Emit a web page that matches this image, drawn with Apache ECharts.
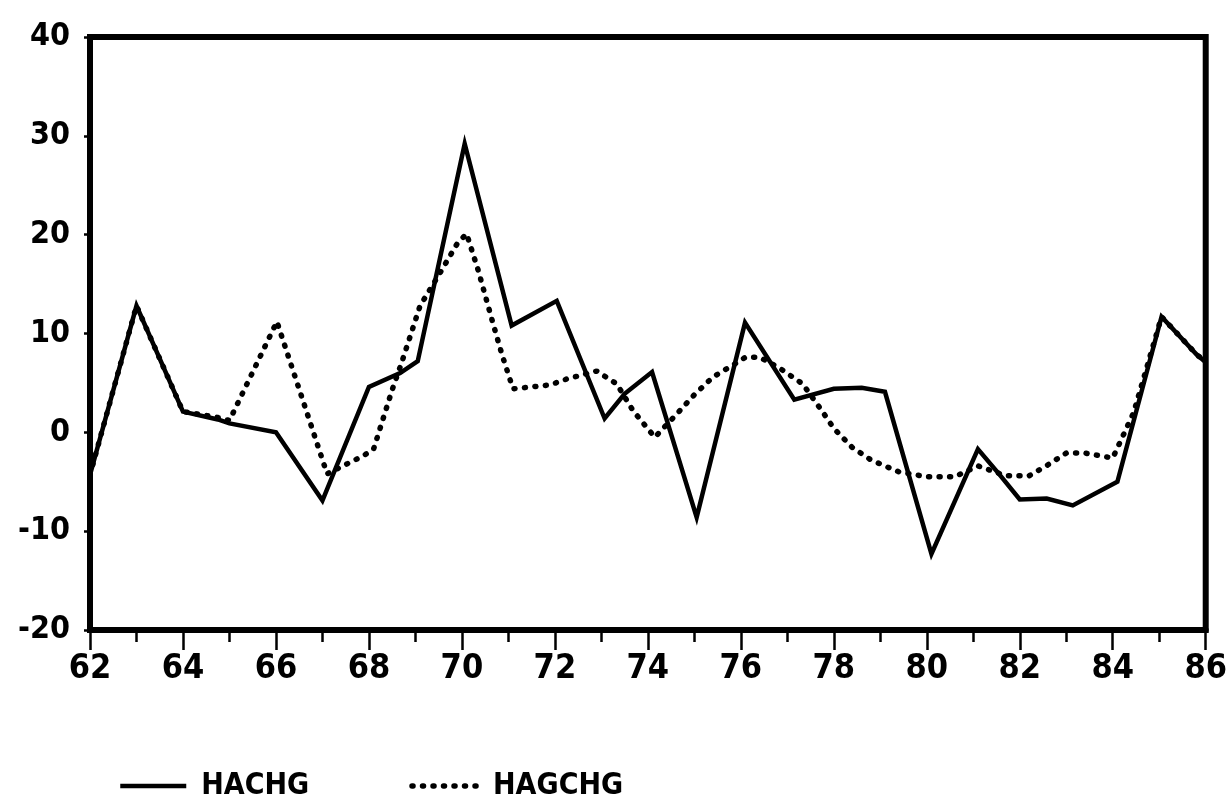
<!DOCTYPE html>
<html>
<head>
<meta charset="utf-8">
<script src="https://cdn.jsdelivr.net/npm/echarts@6/dist/echarts.min.js"></script>
<style>
html,body{margin:0;padding:0;background:#fff;}
#chart{width:1230px;height:811px;}
</style>
</head>
<body>
<div id="chart"></div>
<script>
// HACHG (solid line): years (fractional where the trace has a visible kink) and values
var hachgYears  = [62, 63, 64, 64.75, 65, 66, 67, 68, 68.67, 69.05, 70.06, 71.07, 72.04, 73.07, 73.5, 74.09, 75.05, 76.09, 77.15, 78, 78.6, 79.1, 80.1, 81.1, 81.57, 82, 82.58, 83.14, 84.1, 85.05, 85.8, 86];
var hachgValues = [-4.3, 12.8, 2.1, 1.3, 0.9, 0.0, -6.9, 4.6, 6.0, 7.2, 29.2, 10.8, 13.3, 1.4, 3.9, 6.1, -8.6, 11.1, 3.3, 4.4, 4.5, 4.1, -12.3, -1.7, -4.3, -6.8, -6.7, -7.4, -5.0, 11.7, 7.9, 7.1];

// HAGCHG (dotted line)
var hagchgYears  = [62, 63, 64, 64.75, 65, 66.02, 67.1, 67.44, 67.87, 68.1, 68.5, 68.7, 69.1, 69.5, 69.9, 70.1, 70.35, 70.67, 70.86, 71.1, 71.9, 72.26, 72.9, 73.33, 73.68, 74.15, 74.65, 75.0, 75.4, 75.83, 76.1, 76.4, 76.8, 77.33, 77.74, 78.0, 78.39, 78.8, 79.4, 80.0, 80.6, 81.1, 81.7, 82.2, 82.6, 83.0, 83.4, 84.0, 84.45, 85.05, 85.8, 86];
var hagchgValues = [-4.3, 12.8, 2.1, 1.5, 1.2, 11.2, -4.2, -3.4, -2.4, -1.7, 4.3, 7.0, 12.8, 15.9, 19.1, 20.1, 16.4, 11.0, 7.9, 4.4, 4.8, 5.4, 6.2, 4.9, 2.2, -0.5, 2.0, 3.8, 5.6, 6.8, 7.6, 7.6, 6.6, 4.9, 2.2, 0.4, -1.5, -2.8, -4.0, -4.5, -4.5, -3.4, -4.4, -4.4, -3.3, -2.1, -2.1, -2.6, 2.0, 11.7, 7.9, 7.1];

var seriesNames = ['HACHG', 'HAGCHG'];

function zip(xs, ys) { return xs.map(function (x, i) { return [x, ys[i]]; }); }

var FONT = "'Liberation Sans Narrow', 'DejaVu Sans Condensed', 'Liberation Sans', sans-serif";
var solidStyle = {color: '#000', width: 4.5, join: 'miter'};
var dottedStyle = {color: '#000', width: 5.5, type: [1, 9.5], cap: 'round'};

var chart = echarts.init(document.getElementById('chart'), null, {renderer: 'canvas'});
chart.setOption({
  animation: false,
  backgroundColor: '#ffffff',
  color: ['#000000', '#000000'],
  grid: {
    left: 90, right: 22, top: 37, bottom: 181,
    show: true, borderColor: '#000', borderWidth: 6, backgroundColor: 'transparent'
  },
  xAxis: {
    type: 'value', min: 62, max: 86, interval: 2,
    axisLine: {show: true, onZero: false, lineStyle: {color: '#000', width: 6}},
    axisTick: {show: true, length: 20, lineStyle: {color: '#000', width: 2.5}},
    minorTick: {show: true, splitNumber: 2, length: 12, lineStyle: {color: '#000', width: 2.5}},
    splitLine: {show: false},
    axisLabel: {color: '#000', fontFamily: FONT, fontWeight: 'bold', fontSize: 34, margin: 22}
  },
  yAxis: {
    type: 'value', min: -20, max: 40, interval: 10,
    axisLine: {show: true, onZero: false, lineStyle: {color: '#000', width: 6}},
    axisTick: {show: true, length: 6, lineStyle: {color: '#000', width: 2.5}},
    splitLine: {show: false},
    axisLabel: {color: '#000', fontFamily: FONT, fontWeight: 'bold', fontSize: 32, margin: 20}
  },
  legend: {
    left: 113, top: 766, itemWidth: 66, itemHeight: 20, itemGap: 100,
    itemStyle: {opacity: 0},
    textStyle: {color: '#000', fontFamily: FONT, fontWeight: 'bold', fontSize: 30, padding: [0, 0, 0, 10]},
    data: [
      {name: seriesNames[0], lineStyle: solidStyle},
      {name: seriesNames[1], lineStyle: dottedStyle}
    ]
  },
  series: [
    {
      name: seriesNames[0], type: 'line', data: zip(hachgYears, hachgValues),
      symbol: 'none', z: 3,
      itemStyle: {color: '#000'},
      lineStyle: solidStyle
    },
    {
      name: seriesNames[1], type: 'line', data: zip(hagchgYears, hagchgValues),
      symbol: 'none', z: 2,
      itemStyle: {color: '#000'},
      lineStyle: dottedStyle
    }
  ]
});
</script>
</body>
</html>
